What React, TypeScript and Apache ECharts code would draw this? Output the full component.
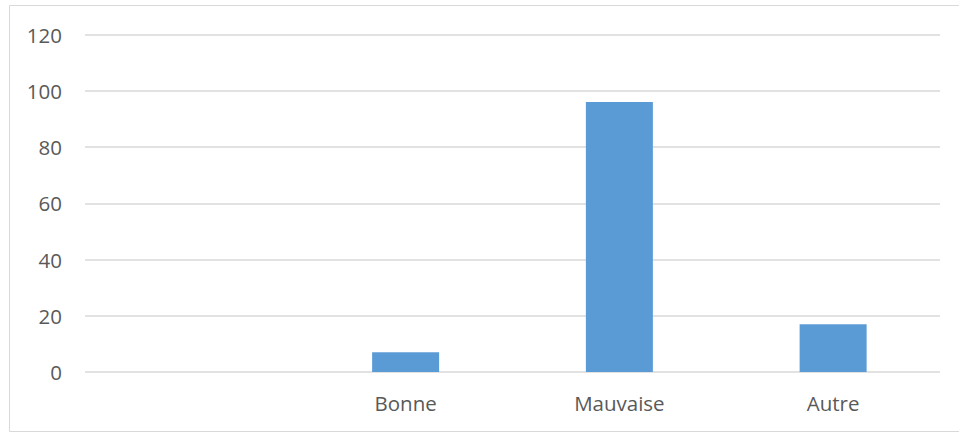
import React, { useEffect, useRef } from "react";
import * as echarts from "echarts";

const categories = ["", "Bonne", "Mauvaise", "Autre"];
const values: (number | null)[] = [null, 7, 96, 17];
const yTicks = [0, 20, 40, 60, 80, 100, 120];

export default function App() {
  const ref = useRef<HTMLDivElement>(null);
  useEffect(() => {
    if (!ref.current) return;
    const chart = echarts.init(ref.current, undefined, { renderer: "svg" });
    chart.setOption({
      animation: false,
      backgroundColor: "#ffffff",
      textStyle: { fontFamily: "'Open Sans', sans-serif" },
      graphic: [
        {
          type: "rect",
          shape: { x: 9.5, y: 5.5, width: 960, height: 426 },
          style: { fill: "none", stroke: "#d9d9d9", lineWidth: 1 },
          silent: true,
        },
      ],
      grid: { left: 85, right: 19, top: 34.5, bottom: 61 },
      xAxis: {
        type: "category",
        data: categories,
        axisLine: { show: false },
        axisTick: { show: false },
        axisLabel: {
          color: "#595959",
          fontSize: 20.5,
          margin: 20,
          fontFamily: "'Open Sans', sans-serif",
        },
      },
      yAxis: {
        type: "value",
        min: yTicks[0],
        max: yTicks[yTicks.length - 1],
        interval: yTicks[1] - yTicks[0],
        axisLine: { show: false },
        axisTick: { show: false },
        axisLabel: {
          color: "#595959",
          fontSize: 20.5,
          margin: 23,
          fontFamily: "'Open Sans', sans-serif",
        },
        splitLine: { lineStyle: { color: "#d9d9d9", width: 1.5 } },
      },
      series: [
        {
          type: "bar",
          data: values,
          barWidth: 67,
          itemStyle: { color: "#5b9bd5" },
        },
      ],
    });
    return () => chart.dispose();
  }, []);
  return (
    <div
      ref={ref}
      style={{ position: "fixed", left: 0, top: 0, width: 959, height: 433 }}
    />
  );
}
